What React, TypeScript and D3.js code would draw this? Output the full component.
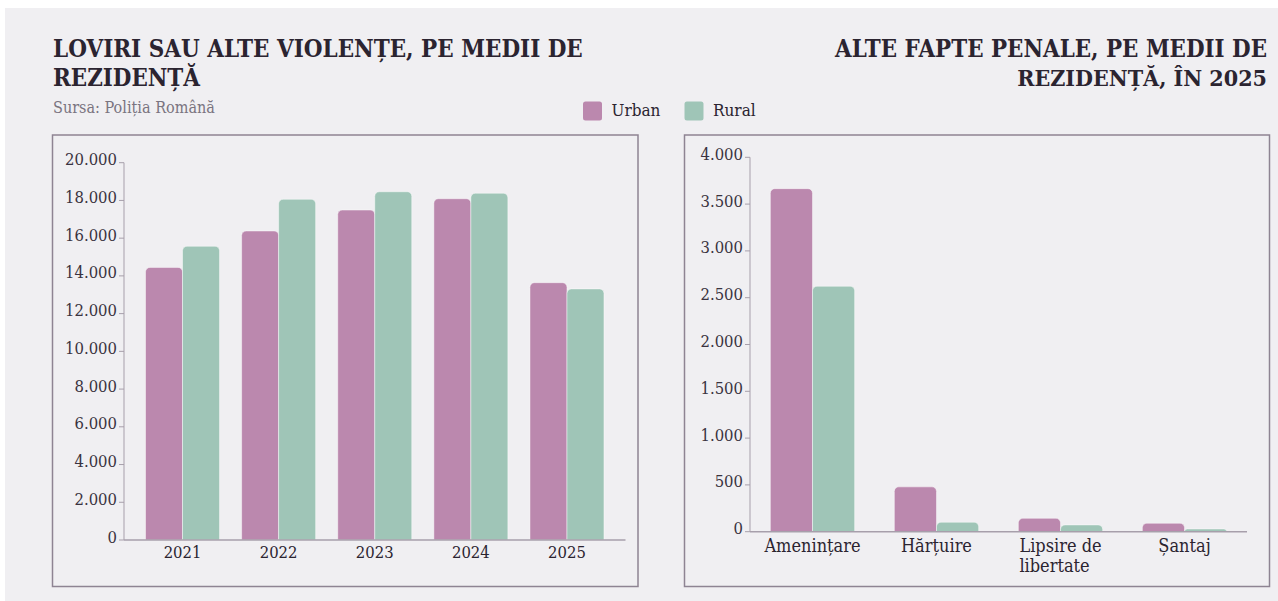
import React, { useEffect, useRef } from "react";
import * as d3 from "d3";

const years = ["2021", "2022", "2023", "2024", "2025"];
const urbanYears = [14450, 16380, 17490, 18090, 13640];
const ruralYears = [15570, 18060, 18460, 18380, 13310];
const leftTicks = [0, 2000, 4000, 6000, 8000, 10000, 12000, 14000, 16000, 18000, 20000];

const crimes = ["Amenințare", "Hărțuire", "Lipsire de libertate", "Șantaj"];
const urbanCrimes = [3665, 479, 143, 90];
const ruralCrimes = [2622, 101, 72, 29];
const rightTicks = [0, 500, 1000, 1500, 2000, 2500, 3000, 3500, 4000];

const seriesNames = ["Urban", "Rural"];
const colors = ["#bb88ae", "#9fc5b7"];

const FONT = "'DejaVu Serif', serif";
const fmt = (v: number) => d3.format(",")(v).replace(/,/g, ".");

function topRounded(x: number, y: number, w: number, h: number, r: number) {
  const rr = Math.min(r, h, w / 2);
  const p = d3.path();
  p.moveTo(x, y + h);
  p.lineTo(x, y + rr);
  p.arcTo(x, y, x + rr, y, rr);
  p.lineTo(x + w - rr, y);
  p.arcTo(x + w, y, x + w, y + rr, rr);
  p.lineTo(x + w, y + h);
  p.closePath();
  return p.toString();
}

export default function App() {
  const ref = useRef<SVGSVGElement>(null);

  useEffect(() => {
    const svg = d3.select(ref.current);
    svg.selectAll("*").remove();

    svg.append("rect").attr("x", 5).attr("y", 8).attr("width", 1273).attr("height", 593).attr("fill", "#f0eff2");

    // fit a text's font size so that its natural width matches the target
    const fit = (t: d3.Selection<SVGTextElement, unknown, null, undefined>, base: number, target: number) => {
      const w = (t.node() as SVGTextElement).getComputedTextLength();
      if (w > 0) t.attr("font-size", (base * target) / w);
    };

    // Titles
    const title = (lines: string[], x: number, anchor: string, lens: number[]) => {
      lines.forEach((l, i) => {
        const t = svg.append("text")
          .attr("x", x).attr("y", 57 + i * 28.5)
          .attr("text-anchor", anchor)
          .attr("font-family", FONT)
          .attr("font-stretch", "condensed")
          .attr("font-weight", 700)
          .attr("font-size", 24)
          .attr("fill", "#2b2430")
          .text(l);
        fit(t as any, 24, lens[i]);
      });
    };
    title(["LOVIRI SAU ALTE VIOLENȚE, PE MEDII DE", "REZIDENȚĂ"], 53, "start", [530, 147]);
    title(["ALTE FAPTE PENALE, PE MEDII DE", "REZIDENȚĂ, ÎN 2025"], 1267, "end", [432, 250]);

    const sub = svg.append("text").attr("x", 53).attr("y", 113)
      .attr("font-family", FONT).attr("font-stretch", "condensed").attr("font-size", 15).attr("fill", "#7a7480")
      .text("Sursa: Poliția Română");
    fit(sub as any, 15, 162);

    // Legend
    const legX = [583, 684.5];
    seriesNames.forEach((n, i) => {
      svg.append("rect").attr("x", legX[i]).attr("y", 101.5).attr("width", 19).attr("height", 19).attr("rx", 2.5)
        .attr("fill", colors[i]);
      svg.append("text").attr("x", legX[i] + 28.5).attr("y", 116)
        .attr("font-family", FONT).attr("font-stretch", "condensed").attr("font-size", 17)
        .attr("fill", "#2b2430").text(n);
    });

    // Boxes
    svg.append("rect").attr("x", 52.5).attr("y", 135).attr("width", 585.5).attr("height", 451.5)
      .attr("fill", "none").attr("stroke", "#8e8493").attr("stroke-width", 1.5);
    svg.append("rect").attr("x", 684.5).attr("y", 135).attr("width", 585).attr("height", 451.5)
      .attr("fill", "none").attr("stroke", "#8e8493").attr("stroke-width", 1.5);

    const drawChart = (cfg: {
      cats: string[]; u: number[]; r: number[]; ticks: number[]; max: number;
      x0: number; x1: number; y0: number; y1: number; pi: number; po: number;
      tickFont: number; catFont: number; catY: number; wrap: boolean;
    }) => {
      const g = svg.append("g");
      const x = d3.scaleBand<string>().domain(cfg.cats).range([cfg.x0, cfg.x1]).paddingInner(cfg.pi).paddingOuter(cfg.po);
      const y = d3.scaleLinear().domain([0, cfg.max]).range([cfg.y0, cfg.y1]);
      const subx = d3.scaleBand<string>().domain(seriesNames).range([0, x.bandwidth()]);

      // y axis
      g.append("line").attr("x1", cfg.x0).attr("x2", cfg.x0).attr("y1", y(cfg.max)).attr("y2", y(0))
        .attr("stroke", "#a79fab").attr("stroke-width", 1);
      cfg.ticks.forEach((t) => {
        g.append("line").attr("x1", cfg.x0 - 5).attr("x2", cfg.x0).attr("y1", y(t)).attr("y2", y(t))
          .attr("stroke", "#a79fab").attr("stroke-width", 1);
        g.append("text").attr("x", cfg.x0 - 7).attr("y", y(t) + 2.5)
          .attr("text-anchor", "end").attr("font-family", FONT).attr("font-stretch", "condensed")
          .attr("font-size", cfg.tickFont)
          .attr("fill", "#3a3340").text(fmt(t));
      });

      // bars
      cfg.cats.forEach((c, i) => {
        [cfg.u[i], cfg.r[i]].forEach((v, s) => {
          const bx = (x(c) as number) + (subx(seriesNames[s]) as number);
          g.append("path")
            .attr("d", topRounded(bx, y(v), subx.bandwidth(), y(0) - y(v), 4.5))
            .attr("fill", colors[s])
            .attr("stroke", "rgba(255,255,255,0.45)").attr("stroke-width", 1);
        });
      });

      // x axis
      g.append("line").attr("x1", cfg.x0).attr("x2", cfg.x1).attr("y1", y(0)).attr("y2", y(0))
        .attr("stroke", "#a79fab").attr("stroke-width", 1.5);

      cfg.cats.forEach((c) => {
        const cx = (x(c) as number) + x.bandwidth() / 2;
        const words = c.split(" ");
        const lines = cfg.wrap && words.length > 2 ? [words.slice(0, 2).join(" "), words.slice(2).join(" ")] : [c];
        const t1 = g.append("text").attr("x", cx).attr("y", cfg.catY).attr("text-anchor", "middle")
          .attr("font-family", FONT).attr("font-stretch", "condensed")
          .attr("font-size", cfg.catFont).attr("fill", "#2b2430").text(lines[0]);
        if (lines.length > 1) {
          const w = (t1.node() as SVGTextElement).getComputedTextLength();
          g.append("text").attr("x", cx - w / 2).attr("y", cfg.catY + 20).attr("text-anchor", "start")
            .attr("font-family", FONT).attr("font-stretch", "condensed")
            .attr("font-size", cfg.catFont).attr("fill", "#2b2430").text(lines[1]);
        }
      });
    };

    drawChart({
      cats: years, u: urbanYears, r: ruralYears, ticks: leftTicks, max: 20000,
      x0: 124, x1: 625.5, y0: 540, y1: 162.7, pi: 0.23, po: 0.224,
      tickFont: 16.5, catFont: 16.5, catY: 558, wrap: false,
    });
    drawChart({
      cats: crimes, u: urbanCrimes, r: ruralCrimes, ticks: rightTicks, max: 4000,
      x0: 750, x1: 1247, y0: 531.7, y1: 157.3, pi: 0.32, po: 0.164,
      tickFont: 16.5, catFont: 18, catY: 551.5, wrap: true,
    });
  }, []);

  return (
    <svg ref={ref} width={1278} height={601}
      style={{ position: "absolute", left: 0, top: 0, display: "block" }} />
  );
}
